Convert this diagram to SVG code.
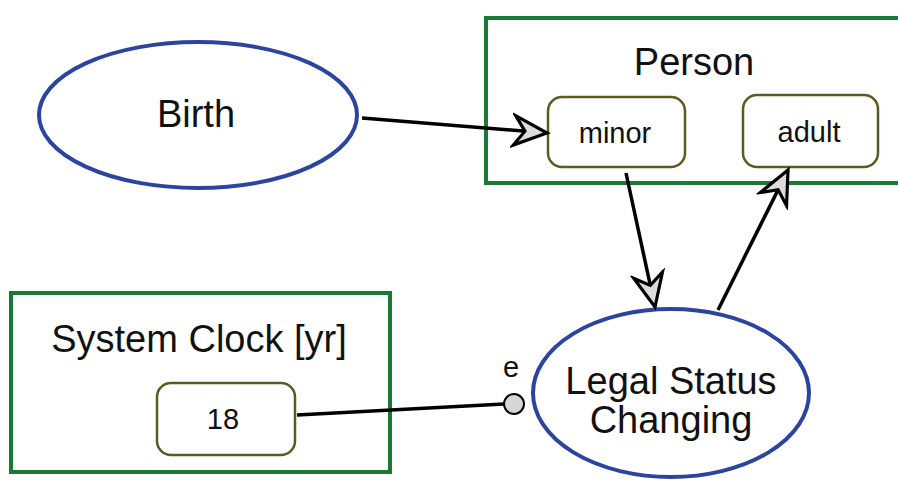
<svg xmlns="http://www.w3.org/2000/svg" width="898" height="480" viewBox="0 0 898 480">
<style>
text{font-family:"Liberation Sans",Arial,sans-serif;fill:#111;text-anchor:middle}
.big{font-size:38px}
.small{font-size:29px}
.obj{fill:#fff;stroke:#1a7a35;stroke-width:4}
.state{fill:#fff;stroke:#5c5a1e;stroke-width:2.5}
.proc{fill:#fff;stroke:#2b44a0;stroke-width:4}
.link{stroke:#000;stroke-width:3.5;fill:none}
</style>
<defs>
<marker id="ah" markerUnits="userSpaceOnUse" markerWidth="40" markerHeight="40" viewBox="-34 -18 38 36" refX="0" refY="0" orient="auto">
<path d="M0,0 L-31,-14 L-21,0 L-31,14 Z" fill="#dcdcdc" stroke="#000" stroke-width="3" stroke-linejoin="miter"/>
</marker>
</defs>
<rect width="898" height="480" fill="#fff"/>
<g id="person">
<rect class="obj" x="486" y="18" width="420" height="165"/>
<text class="big" x="694" y="75">Person</text>
</g>
<g id="minor">
<rect class="state" x="548" y="97" width="137" height="70" rx="14"/>
<text class="small" x="615" y="143">minor</text>
</g>
<g id="adult">
<rect class="state" x="743" y="95" width="135" height="72" rx="14"/>
<text class="small" x="809" y="142">adult</text>
</g>
<g id="birth">
<ellipse class="proc" cx="198" cy="115" rx="159" ry="73"/>
<text class="big" x="196" y="127">Birth</text>
</g>
<g id="clock">
<rect class="obj" x="11" y="293" width="379" height="179"/>
<text class="big" x="199" y="352">System Clock [yr]</text>
</g>
<g id="v18">
<rect class="state" x="157" y="383" width="138" height="72" rx="14"/>
<text class="small" x="223" y="429">18</text>
</g>
<g id="legal">
<ellipse class="proc" cx="671" cy="393" rx="138" ry="84"/>
<text class="big" x="671" y="394">Legal Status</text>
<text class="big" x="671" y="433">Changing</text>
</g>
<g id="connectors">
<line class="link" x1="362" y1="118" x2="547" y2="133" marker-end="url(#ah)"/>
<line class="link" x1="626" y1="173" x2="655" y2="307" marker-end="url(#ah)"/>
<line class="link" x1="718" y1="310" x2="788" y2="170" marker-end="url(#ah)"/>
<line class="link" x1="297" y1="415" x2="504" y2="404"/>
<circle cx="514" cy="404" r="10" fill="#d6d6d6" stroke="#000" stroke-width="2"/>
<text x="511" y="377" font-size="29">e</text>
</g>
</svg>
